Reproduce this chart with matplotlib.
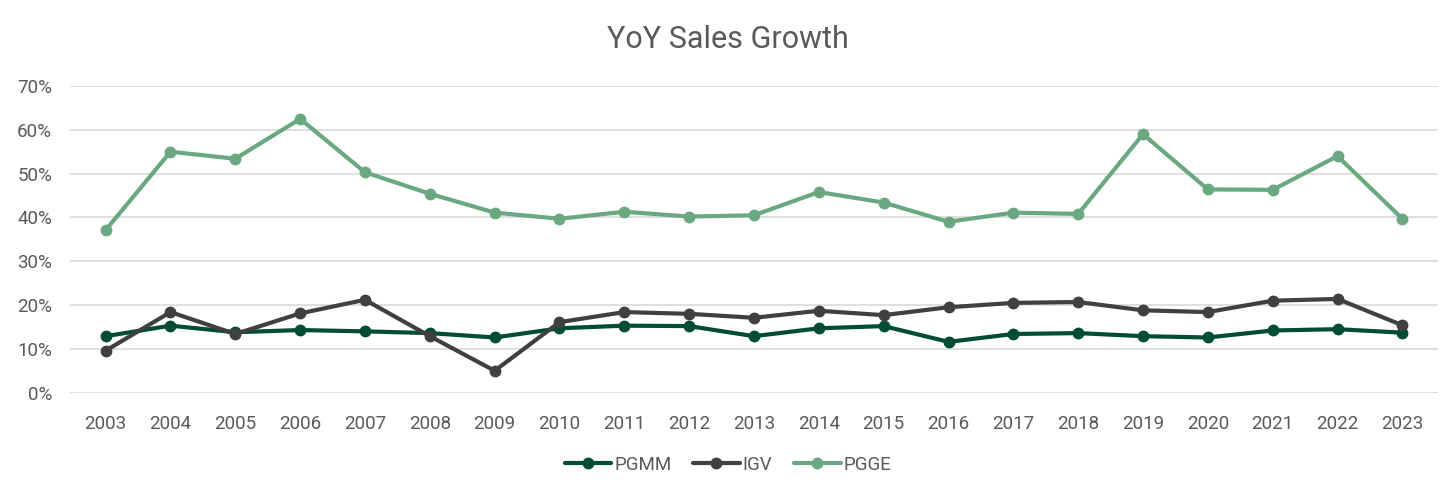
import matplotlib
matplotlib.use("Agg")
import matplotlib.pyplot as plt
from matplotlib.ticker import FuncFormatter

# years on the category axis
years = [str(y) for y in range(2003, 2024)]

# yoy sales growth in percent
pgmm = [12.9, 15.3, 13.8, 14.3, 14.0, 13.6, 12.6, 14.7, 15.3, 15.2, 12.9,
        14.7, 15.2, 11.6, 13.4, 13.6, 12.9, 12.6, 14.2, 14.5, 13.7]
igv = [9.6, 18.4, 13.4, 18.1, 21.2, 12.9, 5.0, 16.1, 18.4, 18.0, 17.1,
       18.7, 17.7, 19.5, 20.5, 20.7, 18.8, 18.4, 21.0, 21.4, 15.4]
pgge = [37.1, 55.0, 53.4, 62.5, 50.3, 45.4, 41.1, 39.7, 41.3, 40.2, 40.5,
        45.8, 43.4, 39.0, 41.1, 40.8, 59.0, 46.4, 46.3, 54.0, 39.7]

series_names = ["PGMM", "IGV", "PGGE"]
series_colors = ["#004d33", "#404040", "#6aa882"]

plt.rcParams['font.family'] = ['Roboto', 'DejaVu Sans']
text_grey = "#595959"

fig = plt.figure(figsize=(14.56, 5.01), dpi=100)
ax = fig.add_axes([70 / 1456, 1 - 392.7 / 501, 1368 / 1456, (392.7 - 86) / 501])

x = list(range(len(years)))
for vals, name, col in zip([pgmm, igv, pgge], series_names, series_colors):
    ax.plot(x, vals, color=col, linewidth=3, marker='o', markersize=7.5,
            label=name, solid_joinstyle='round', solid_capstyle='round')

ax.set_xlim(-0.55, len(years) - 0.45)
ax.set_ylim(0, 70)
ax.set_yticks(range(0, 71, 10))
ax.yaxis.set_major_formatter(FuncFormatter(lambda v, p: f"{v:.0f}%"))
ax.set_xticks(x)
ax.set_xticklabels(years)

ax.grid(axis='y', color='#d9d9d9', linewidth=1.2)
ax.set_axisbelow(True)
for s in ax.spines.values():
    s.set_visible(False)
ax.tick_params(axis='both', length=0, labelsize=13.5, labelcolor=text_grey)
ax.tick_params(axis='x', pad=16)
ax.tick_params(axis='y', pad=13)

fig.text(0.5, 1 - 40 / 501, "YoY Sales Growth", ha='center', va='center',
         fontsize=22, color=text_grey)

leg = fig.legend(loc='center', bbox_to_anchor=(0.5, 1 - 465 / 501),
                 ncol=3, frameon=False, fontsize=13.5, handlelength=2.5,
                 columnspacing=1.15, handletextpad=0.15)
for t in leg.get_texts():
    t.set_color(text_grey)

fig.savefig("out.png", dpi=100)
